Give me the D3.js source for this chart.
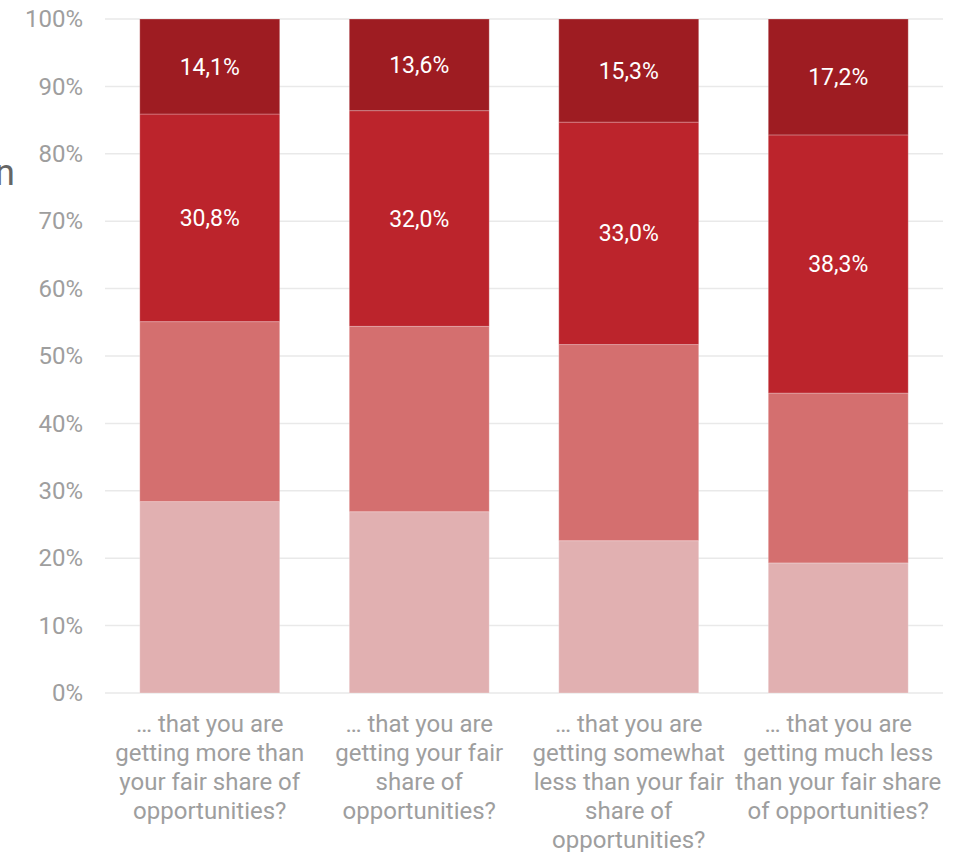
<!DOCTYPE html>
<html><head><meta charset="utf-8">
<script src="https://cdn.jsdelivr.net/npm/d3@7"></script>
<style>body{margin:0;background:#fff;font-family:Roboto,sans-serif}</style>
</head><body><svg id="c" width="961" height="852"></svg>
<script>
const categories = [
  ["… that you are","getting more than","your fair share of","opportunities?"],
  ["… that you are","getting your fair","share of","opportunities?"],
  ["… that you are","getting somewhat","less than your fair","share of","opportunities?"],
  ["… that you are","getting much less","than your fair share","of opportunities?"]
];
const s1 = [28.4, 26.9, 22.6, 19.3];
const s2 = [26.7, 27.5, 29.1, 25.2];
const s3 = [30.8, 32.0, 33.0, 38.3];
const s4 = [14.1, 13.6, 15.3, 17.2];
const seriesColors = ["#e1b0b1", "#d46f6f", "#bc242c", "#9e1c22"];
const labelledSeries = [2, 3];
const yTicks = [0,10,20,30,40,50,60,70,80,90,100];

const svg = d3.select("#c");
const m = {l:105, r:18, t:19, b:159};
const W = 961, H = 852;
const x = d3.scaleBand().domain(d3.range(categories.length)).range([m.l, W-m.r]).paddingInner(0.332).paddingOuter(0.166);
const y = d3.scaleLinear().domain([0,100]).range([H-m.b, m.t]);

// gridlines
svg.append("g").selectAll("line").data(yTicks).join("line")
  .attr("x1", m.l).attr("x2", W-m.r)
  .attr("y1", d=>y(d)).attr("y2", d=>y(d))
  .attr("stroke", "#e9e9e9").attr("stroke-width", 1.5);

// y axis labels
const yAxis = d3.axisLeft(y).tickValues(yTicks).tickFormat(d=>d+"%").tickSize(0).tickPadding(22);
const ya = svg.append("g").attr("transform", `translate(${m.l},0)`).call(yAxis);
ya.select(".domain").remove();
ya.selectAll("text").attr("fill","#9e9e9e").style("font-family","Roboto").style("font-size","24px");

// stack
const data = categories.map((c,i)=>({i, a:s1[i], b:s2[i], c:s3[i], d:s4[i]}));
const stack = d3.stack().keys(["a","b","c","d"])(data);
stack.forEach((layer, li)=>{
  const g = svg.append("g");
  g.selectAll("rect").data(layer).join("rect")
    .attr("x", d=>x(d.data.i)).attr("width", x.bandwidth())
    .attr("y", d=>y(d[1])).attr("height", d=>y(d[0])-y(d[1]))
    .attr("fill", seriesColors[li])
    .attr("stroke", "rgba(255,255,255,0.25)").attr("stroke-width", 1);
  if (labelledSeries.includes(li)) {
    g.selectAll("text").data(layer).join("text")
      .attr("x", d=>x(d.data.i)+x.bandwidth()/2)
      .attr("y", d=>(y(d[0])+y(d[1]))/2)
      .attr("dy","0.35em").attr("text-anchor","middle")
      .attr("fill","#fff").style("font-size","23px")
      .text(d=>(d[1]-d[0]).toFixed(1).replace(".",",")+"%");
  }
});

// x labels
const xl = svg.append("g");
categories.forEach((lines,i)=>{
  const t = xl.append("text").attr("text-anchor","middle").attr("fill","#9e9e9e").style("font-size","24px");
  lines.forEach((ln,j)=>{
    t.append("tspan").attr("x", x(i)+x.bandwidth()/2).attr("y", 732 + j*29).text(ln);
  });
});

// partially visible side text
svg.append("text").attr("x", 15).attr("y", 185).attr("text-anchor","end")
  .attr("fill","#666").style("font-size","36px").text("n");
</script></body></html>
